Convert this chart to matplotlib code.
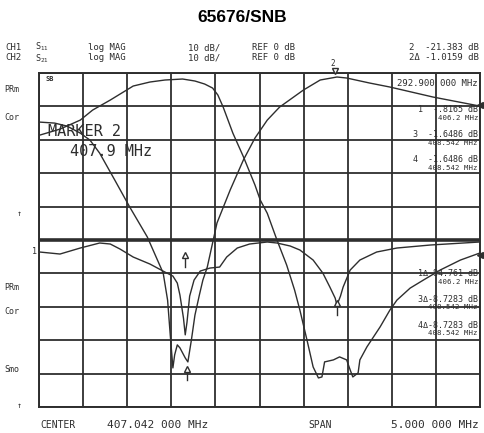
import matplotlib.pyplot as plt
import numpy as np

W, H = 484, 433
center = 407.042
span = 5.0
f0, f1 = center - span / 2, center + span / 2

# CH2 S21, lower band filter (MHz, dB)
f_low = [404.55, 404.78, 405.01, 405.15, 405.35, 405.61, 405.80, 405.97, 406.17, 406.31,
         406.42, 406.51, 406.57, 406.63, 406.74, 406.86, 406.99, 407.05, 407.13, 407.24,
         407.35, 407.44, 407.50, 407.58, 407.65, 407.71, 407.75, 407.78, 407.88, 407.95,
         408.03, 408.07, 408.10, 408.16, 408.18, 408.26, 408.41, 408.52, 408.60, 408.75,
         408.90, 409.09, 409.32, 409.54]
s21_low = [-18.6, -16.8, -14.1, -11.1, -8.1, -3.9, -2.7, -2.1, -1.8, -2.4,
           -3.3, -4.5, -6.6, -10.2, -18.0, -25.1, -33.5, -38.0, -42.0, -50.0,
           -57.5, -65.0, -71.0, -79.9, -88.0, -91.3, -91.0, -86.5, -85.9, -85.0,
           -85.9, -88.9, -91.0, -89.8, -85.9, -82.0, -76.0, -71.0, -68.0, -64.4,
           -62.0, -59.0, -56.0, -53.9]

# CH2 S21, upper band filter
f_up = [404.55, 404.72, 404.86, 405.01, 405.12, 405.23, 405.40, 405.57, 405.77, 405.86,
        405.95, 406.00, 406.03, 406.06, 406.08, 406.11, 406.14, 406.20, 406.23, 406.27,
        406.31, 406.36, 406.40, 406.45, 406.56, 406.71, 406.86, 406.99, 407.13, 407.27,
        407.54, 407.73, 407.92, 408.03, 408.29, 408.52, 409.01, 409.54]
s21_up = [-14.7, -15.0, -15.9, -18.0, -20.1, -24.0, -32.0, -40.1, -49.1, -54.5,
          -59.9, -68.0, -78.4, -88.3, -84.4, -81.4, -82.3, -85.3, -86.5, -79.9,
          -72.5, -66.5, -62.0, -58.1, -44.9, -35.0, -26.0, -19.5, -14.1, -10.2,
          -5.1, -2.1, -1.2, -1.5, -3.0, -4.2, -7.2, -9.9]

# CH1 S11 (dB, referenced to the centre line)
f_s11 = [404.55, 404.78, 405.01, 405.23, 405.35, 405.46, 405.61, 405.80, 405.97, 406.06,
         406.11, 406.14, 406.18, 406.20, 406.22, 406.25, 406.30, 406.37, 406.48, 406.59,
         406.67, 406.79, 406.93, 407.13, 407.24, 407.39, 407.50, 407.65, 407.76, 407.84,
         407.90, 407.92, 407.96, 407.99, 408.07, 408.18, 408.37, 408.60, 408.98, 409.54]
s11 = [-3.6, -4.2, -2.4, -0.9, -1.2, -2.7, -5.1, -7.2, -9.6, -10.8,
       -12.9, -16.5, -23.4, -28.4, -24.6, -16.8, -12.0, -9.3, -8.4, -8.1,
       -5.1, -2.4, -1.2, -0.6, -0.9, -1.8, -3.0, -6.0, -9.9, -14.1,
       -17.4, -19.5, -16.8, -14.1, -9.0, -6.0, -3.6, -2.4, -1.5, -0.6]
s11_ref = -50  # CH1 reference line sits 5 divisions down

ink = '#2e2e2e'
mono = 'DejaVu Sans Mono'

fig = plt.figure(figsize=(W / 100, H / 100), dpi=100)
ax = fig.add_axes([39 / W, 1 - 407 / H, 441 / W, 334 / H])
ax.set_xlim(f0, f1)
ax.set_ylim(-100, 0)
ax.set_xticks(np.linspace(f0, f1, 11))
ax.set_yticks(np.arange(-100, 1, 10))
ax.tick_params(length=0, labelbottom=False, labelleft=False)
ax.grid(True, color=ink, linewidth=1.3)
for s in ax.spines.values():
    s.set_color(ink)
    s.set_linewidth(1.4)
ax.axhline(-50, color=ink, linewidth=2.6, zorder=3)

ax.plot(f_low, s21_low, color=ink, linewidth=1.0, zorder=4)
ax.plot(f_up, s21_up, color=ink, linewidth=1.0, zorder=4)
ax.plot(f_s11, np.array(s11) + s11_ref, color=ink, linewidth=1.0, zorder=4)

# markers
mk_f = [407.9, 406.2, 406.22, 407.92]
mk_db = [0.6, -54.5, -88.5, -69.0]
for f, d in zip(mk_f[1:], mk_db[1:]):
    ax.plot([f, f], [d, d - 3.5], color=ink, linewidth=1.0, zorder=5)
    ax.plot(f, d, marker='^', markersize=5, markerfacecolor='white',
            markeredgecolor=ink, markeredgewidth=1.0, zorder=6)
ax.plot(mk_f[0], mk_db[0], marker='v', markersize=5, markerfacecolor='white',
        markeredgecolor=ink, markeredgewidth=1.0, zorder=6, clip_on=False)
ax.plot([f1, f1], [-9.5, -54.5], linestyle='none', marker='<', markersize=4,
        color=ink, clip_on=False, zorder=6)


def t(x, y, s, size=6.5, ha='left', **kw):
    fig.text(x / W, 1 - y / H, s, fontsize=size, ha=ha, va='center',
             color=ink, family=mono, **kw)


fig.text(0.5, 1 - 17 / H, '65676/SNB', fontsize=12.5, fontweight='bold',
         ha='center', va='center', family='Liberation Sans')

t(5, 48, 'CH1')
t(35, 47, r'S$_{11}$', size=6)
t(88, 48, 'log MAG')
t(188, 48, '10 dB/')
t(252, 48, 'REF 0 dB')
t(479, 48, '2  -21.383 dB', ha='right')
t(5, 58, 'CH2')
t(35, 59, r'S$_{21}$', size=6)
t(88, 58, 'log MAG')
t(188, 58, '10 dB/')
t(252, 58, 'REF 0 dB')
t(479, 58, '2\u0394 -1.0159 dB', ha='right')
t(333, 64, '2', size=5.5, ha='center')

for y, s in [(90, 'PRm'), (117, 'Cor'), (287, 'PRm'), (311, 'Cor'), (370, 'Smo')]:
    t(4, y, s, size=6)
t(17, 213, '\u2191', size=6)
t(17, 405, '\u2191', size=6)
t(32, 252, '1', size=6)

t(45, 79, 'SB', size=5, fontweight='bold')
t(478, 84, '292.900 000 MHz', ha='right')
t(48, 131, 'MARKER 2', size=11)
t(70, 152, '407.9 MHz', size=11)

for y, a, b in [(110, '1  -.8165 dB', '406.2 MHz'),
                (135, '3  -1.6486 dB', '408.542 MHz'),
                (160, '4  -1.6486 dB', '408.542 MHz'),
                (274, '1\u0394-84.761 dB', '406.2 MHz'),
                (299, '3\u0394-8.7283 dB', '408.542 MHz'),
                (325, '4\u0394-8.7283 dB', '408.542 MHz')]:
    t(478, y, a, size=6, ha='right')
    t(478, y + 8, b, size=5.3, ha='right')

t(40, 425, 'CENTER', size=7)
t(107, 425, '407.042 000 MHz', size=8)
t(308, 425, 'SPAN', size=7)
t(479, 425, '5.000 000 MHz', size=8, ha='right')

fig.savefig('out.png', dpi=100, facecolor='white')
